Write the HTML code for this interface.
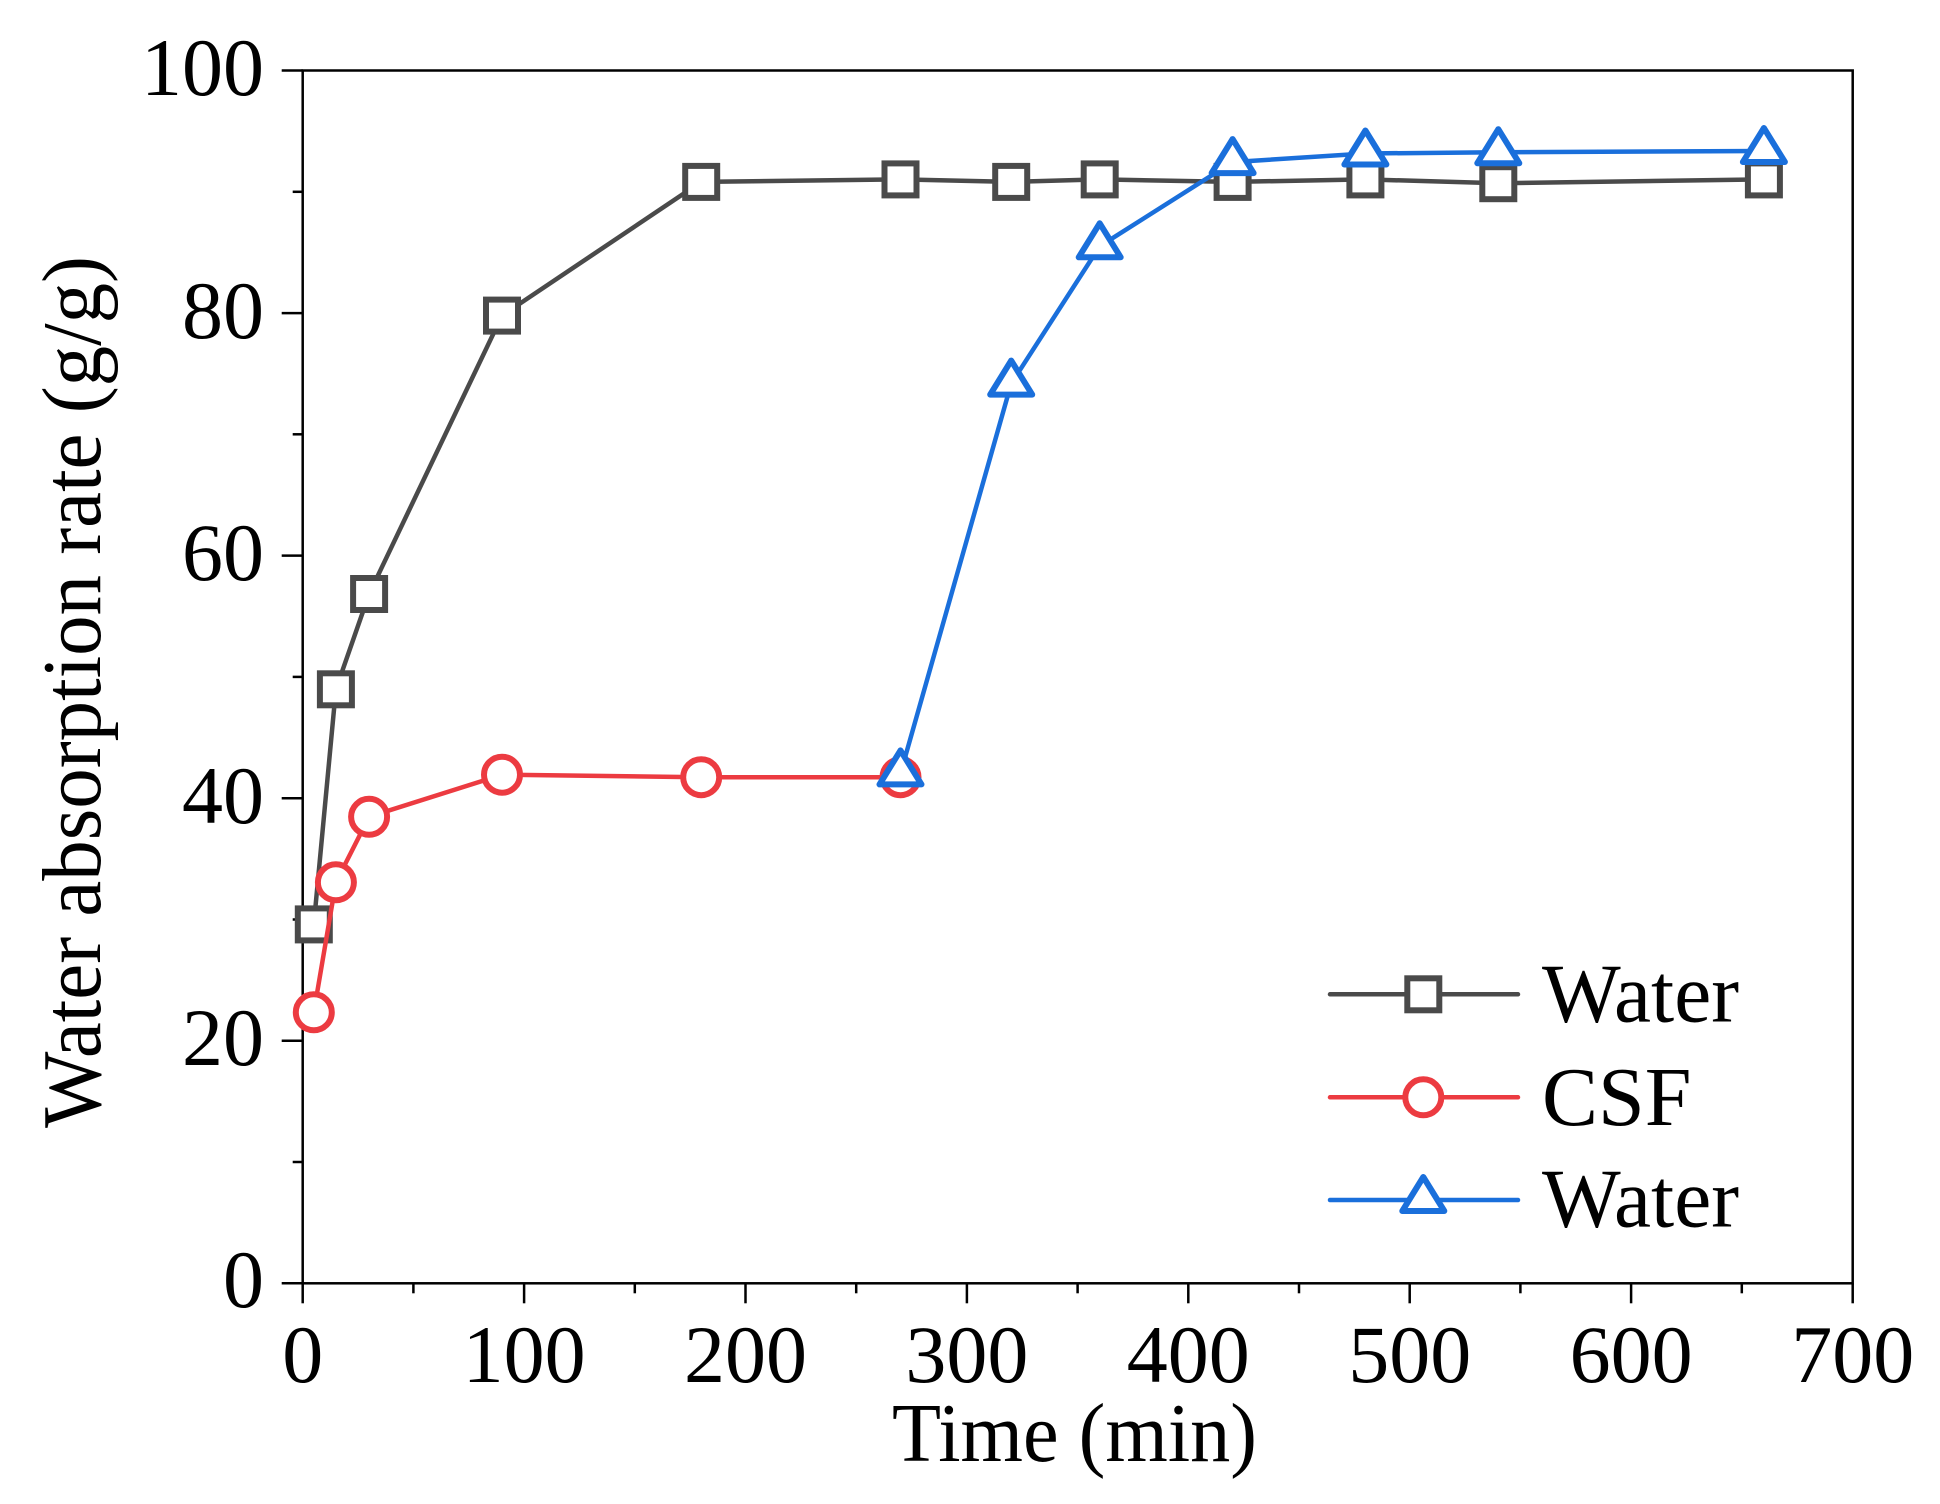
<!DOCTYPE html>
<html><head><meta charset="utf-8"><style>html,body{margin:0;padding:0;background:#fff}svg{display:block}</style></head>
<body>
<svg width="1940" height="1504" viewBox="0 0 1940 1504" xmlns="http://www.w3.org/2000/svg" font-family="Liberation Serif, serif">
<rect width="1940" height="1504" fill="#fff"/>
<rect x="302.7" y="70.5" width="1550" height="1212.8" fill="none" stroke="#000" stroke-width="2.5"/>
<g stroke="#000" stroke-width="2.5">
<line x1="281.7" y1="70.5" x2="302.7" y2="70.5"/><line x1="281.7" y1="313.1" x2="302.7" y2="313.1"/><line x1="281.7" y1="555.6" x2="302.7" y2="555.6"/><line x1="281.7" y1="798.2" x2="302.7" y2="798.2"/><line x1="281.7" y1="1040.7" x2="302.7" y2="1040.7"/><line x1="281.7" y1="1283.3" x2="302.7" y2="1283.3"/>
<line x1="292.7" y1="191.8" x2="302.7" y2="191.8"/><line x1="292.7" y1="434.3" x2="302.7" y2="434.3"/><line x1="292.7" y1="676.9" x2="302.7" y2="676.9"/><line x1="292.7" y1="919.5" x2="302.7" y2="919.5"/><line x1="292.7" y1="1162" x2="302.7" y2="1162"/>
<line x1="302.7" y1="1283.3" x2="302.7" y2="1303.3"/><line x1="524.1" y1="1283.3" x2="524.1" y2="1303.3"/><line x1="745.5" y1="1283.3" x2="745.5" y2="1303.3"/><line x1="966.9" y1="1283.3" x2="966.9" y2="1303.3"/><line x1="1188.3" y1="1283.3" x2="1188.3" y2="1303.3"/><line x1="1409.7" y1="1283.3" x2="1409.7" y2="1303.3"/><line x1="1631.1" y1="1283.3" x2="1631.1" y2="1303.3"/><line x1="1852.7" y1="1283.3" x2="1852.7" y2="1303.3"/>
<line x1="413.4" y1="1283.3" x2="413.4" y2="1293.3"/><line x1="634.8" y1="1283.3" x2="634.8" y2="1293.3"/><line x1="856.2" y1="1283.3" x2="856.2" y2="1293.3"/><line x1="1077.6" y1="1283.3" x2="1077.6" y2="1293.3"/><line x1="1299" y1="1283.3" x2="1299" y2="1293.3"/><line x1="1520.4" y1="1283.3" x2="1520.4" y2="1293.3"/><line x1="1741.8" y1="1283.3" x2="1741.8" y2="1293.3"/>
</g>
<g font-size="82" fill="#000" text-anchor="end">
<text x="264" y="95">100</text><text x="264" y="338">80</text><text x="264" y="580">60</text><text x="264" y="823">40</text><text x="264" y="1065">20</text><text x="264" y="1307">0</text>
</g>
<g font-size="82" fill="#000" text-anchor="middle">
<text x="302.7" y="1382">0</text><text x="524.1" y="1382">100</text><text x="745.5" y="1382">200</text><text x="966.9" y="1382">300</text><text x="1188.3" y="1382">400</text><text x="1409.7" y="1382">500</text><text x="1631.1" y="1382">600</text><text x="1852.7" y="1382">700</text>
</g>
<text x="892" y="1461" font-size="84" textLength="365" lengthAdjust="spacingAndGlyphs">Time (min)</text>
<text transform="translate(100,1128) rotate(-90)" font-size="84" textLength="872" lengthAdjust="spacingAndGlyphs">Water absorption rate (g/g)</text>
<polyline points="313.8,924.4 335.9,689.3 369.1,594 502,315.6 701.2,181.9 900.5,179.4 1011.2,181.9 1099.7,179.4 1232.6,181.9 1365.4,179.4 1498.3,183.2 1763.9,179.4" stroke="#4a4a4a" stroke-width="4.5" fill="none"/>
<g stroke="#4a4a4a" stroke-width="6" fill="#fff">
<rect x="297.8" y="908.4" width="32" height="32"/><rect x="319.9" y="673.3" width="32" height="32"/><rect x="353.1" y="578" width="32" height="32"/><rect x="486" y="299.6" width="32" height="32"/><rect x="685.2" y="165.9" width="32" height="32"/><rect x="884.5" y="163.4" width="32" height="32"/><rect x="995.2" y="165.9" width="32" height="32"/><rect x="1083.7" y="163.4" width="32" height="32"/><rect x="1216.6" y="165.9" width="32" height="32"/><rect x="1349.4" y="163.4" width="32" height="32"/><rect x="1482.3" y="167.2" width="32" height="32"/><rect x="1747.9" y="163.4" width="32" height="32"/>
</g>
<polyline points="313.8,1012.3 335.9,882.3 369.1,816.8 502,774.7 701.2,777.2 900.5,777.2" stroke="#ec3b41" stroke-width="4.5" fill="none"/>
<g stroke="#ec3b41" stroke-width="6" fill="#fff">
<circle cx="313.8" cy="1012.3" r="18"/><circle cx="335.9" cy="882.3" r="18"/><circle cx="369.1" cy="816.8" r="18"/><circle cx="502" cy="774.7" r="18"/><circle cx="701.2" cy="777.2" r="18"/><circle cx="900.5" cy="777.2" r="18"/>
</g>
<polyline points="900.5,773.4 1011.2,383.6 1099.7,246.3 1232.6,162.1 1365.4,153.5 1498.3,152.2 1763.9,151" stroke="#1a6fdb" stroke-width="4.5" fill="none"/>
<g stroke="#1a6fdb" stroke-width="6" fill="#fff" stroke-linejoin="round">
<polygon points="900.5,750.4 879.5,784.4 921.5,784.4"/><polygon points="1011.2,360.6 990.2,394.6 1032.2,394.6"/><polygon points="1099.7,223.3 1078.7,257.3 1120.7,257.3"/><polygon points="1232.6,139.1 1211.6,173.1 1253.6,173.1"/><polygon points="1365.4,130.5 1344.4,164.5 1386.4,164.5"/><polygon points="1498.3,129.2 1477.3,163.2 1519.3,163.2"/><polygon points="1763.9,128 1742.9,162 1784.9,162"/>
</g>
<g stroke-width="4.5" stroke-linecap="round">
<line x1="1330" y1="994.3" x2="1518" y2="994.3" stroke="#4a4a4a"/>
<line x1="1330" y1="1097.3" x2="1518" y2="1097.3" stroke="#ec3b41"/>
<line x1="1330" y1="1200" x2="1518" y2="1200" stroke="#1a6fdb"/>
</g>
<rect x="1407.3" y="978.3" width="32" height="32" stroke="#4a4a4a" stroke-width="6" fill="#fff"/>
<circle cx="1423.3" cy="1097.3" r="18" stroke="#ec3b41" stroke-width="6" fill="#fff"/>
<polygon points="1423.3,1177 1402.3,1211 1444.3,1211" stroke="#1a6fdb" stroke-width="6" fill="#fff" stroke-linejoin="round"/>
<g font-size="84" fill="#000">
<text x="1542" y="1021.7" textLength="197" lengthAdjust="spacingAndGlyphs">Water</text>
<text x="1542" y="1125">CSF</text>
<text x="1542" y="1226.7" textLength="197" lengthAdjust="spacingAndGlyphs">Water</text>
</g>
</svg>
</body></html>
